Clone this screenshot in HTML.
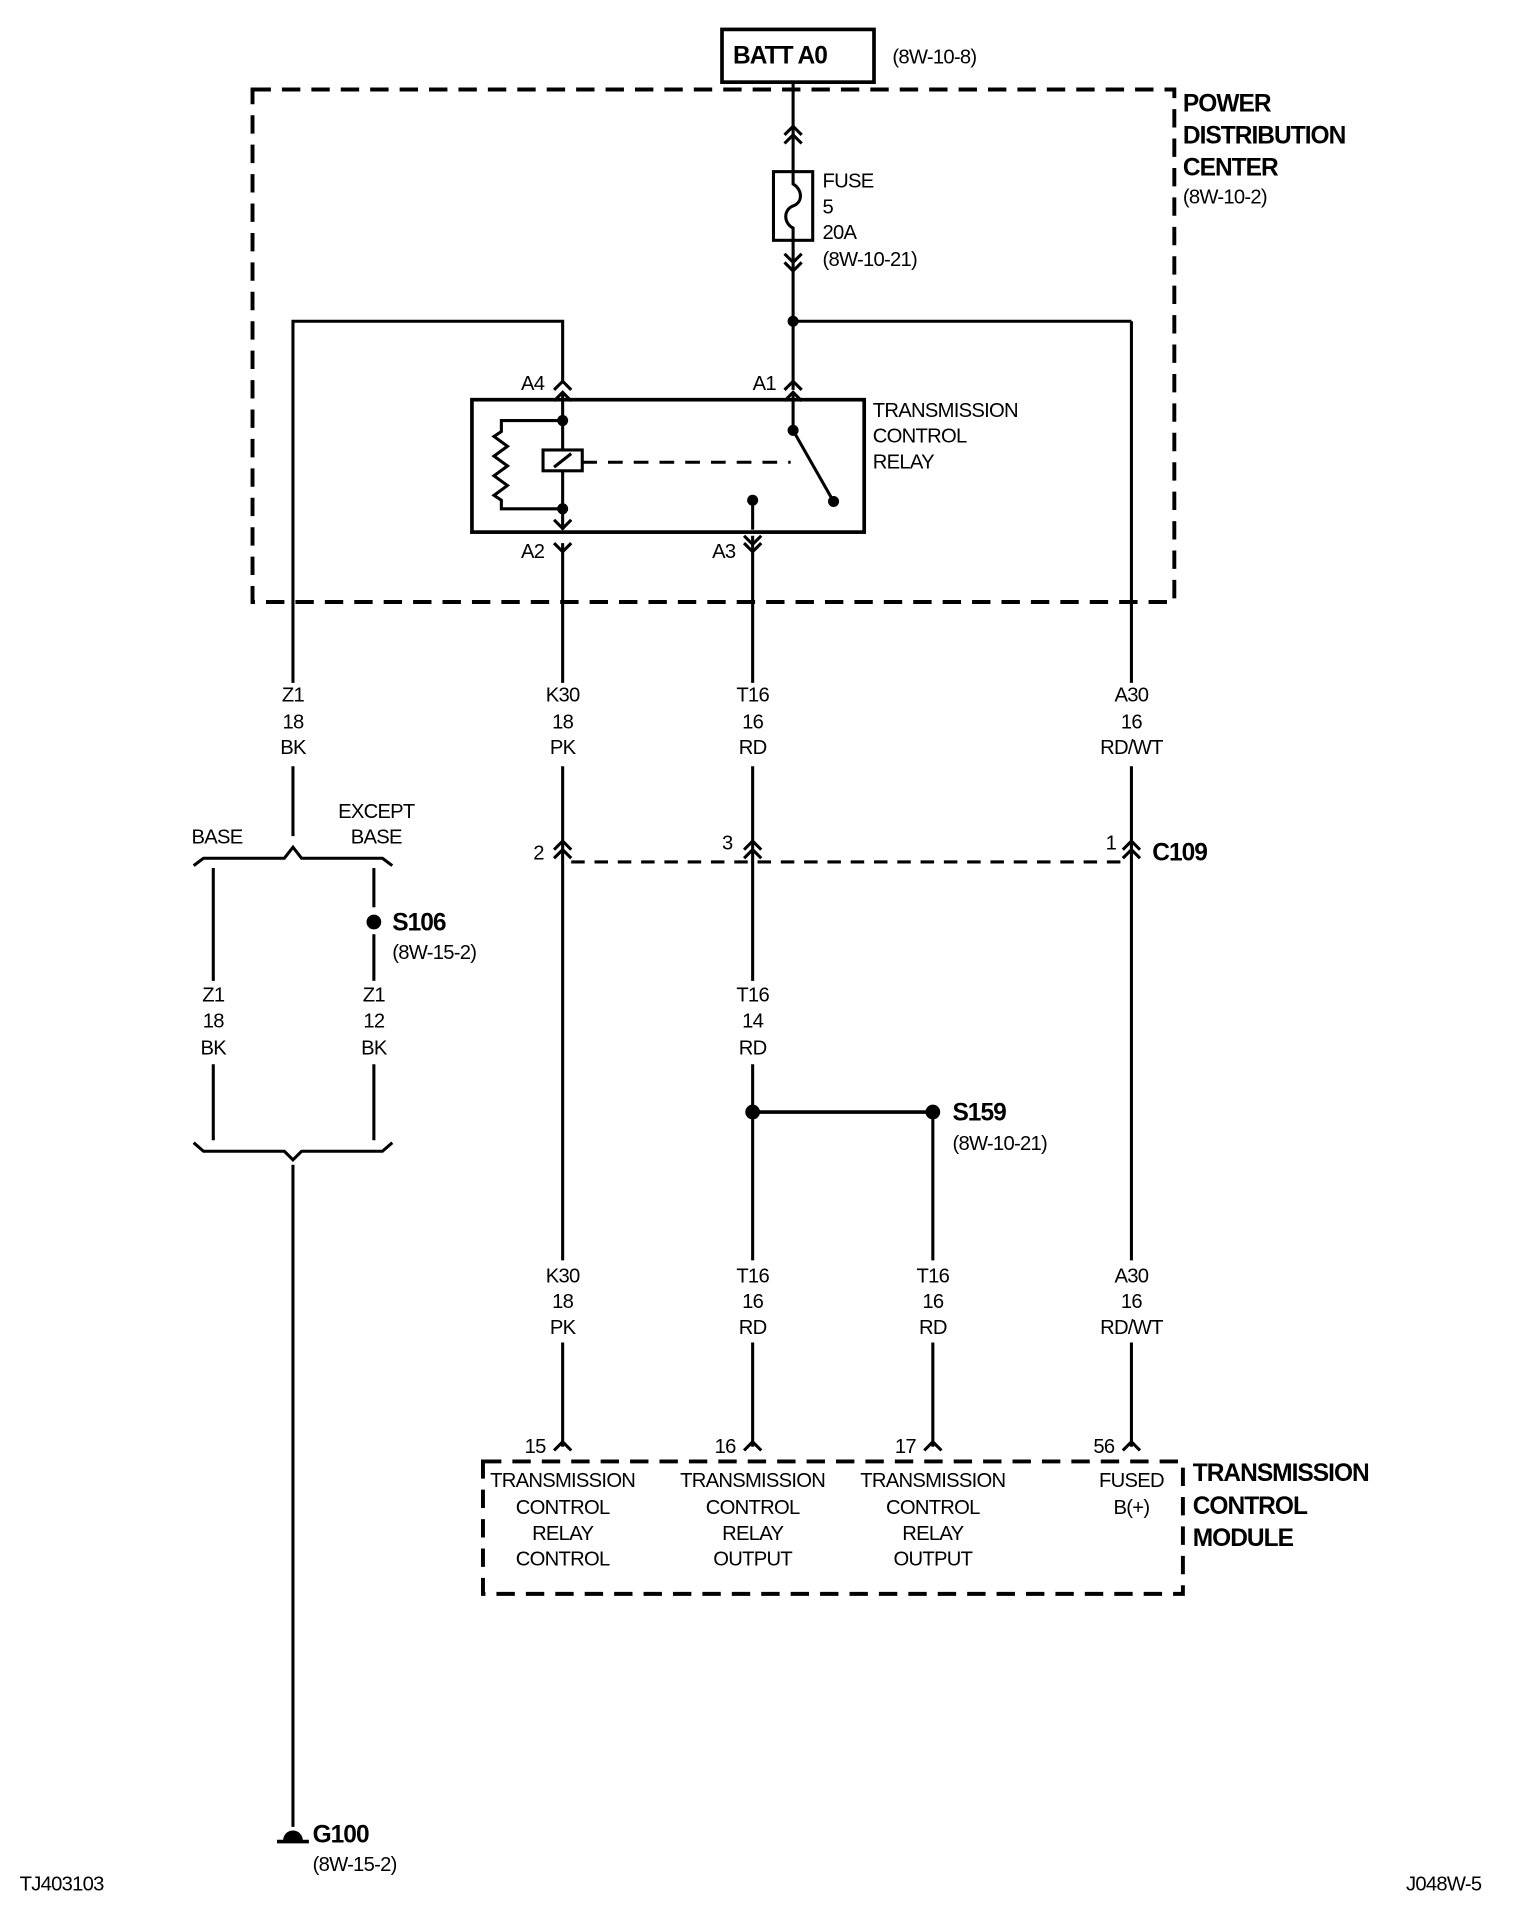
<!DOCTYPE html>
<html><head><meta charset="utf-8"><style>
html,body{margin:0;padding:0;background:#fff;}
svg{display:block}
text{font-family:"Liberation Sans Narrow","Liberation Sans",sans-serif;font-size:16.5px;fill:#000;letter-spacing:-0.6px}
.b{font-weight:bold;font-size:20px;letter-spacing:-0.8px}
.m{text-anchor:middle}
</style></head><body>
<svg width="1520" height="1920" viewBox="0 0 1240 1566" preserveAspectRatio="none" xmlns="http://www.w3.org/2000/svg">
<g fill="none" stroke="#000" stroke-width="2.5">
<rect x="589" y="24" width="124" height="43" stroke-width="3"/>
<rect x="206" y="73" width="752" height="418" stroke-width="3.2" stroke-dasharray="15 9"/>
<line x1="647" y1="67" x2="647" y2="140"/>
<path d="M640 110 L647 103 L654 110 M640 117 L647 110 L654 117"/>
<rect x="631" y="140" width="32" height="56"/>
<path d="M647 140 L647 150 C655 155 655 165 647 168 C639 171 639 182 647 186 L647 196"/>
<line x1="647" y1="196" x2="647" y2="318"/>
<path d="M640 207 L647 214 L654 207 M640 214 L647 221 L654 214"/>
<line x1="647" y1="262" x2="923" y2="262"/>
<line x1="923" y1="262" x2="923" y2="557"/>
<path d="M640 318 L647 311 L654 318"/>
<path d="M640 327 L647 320 L654 327"/>
<line x1="647" y1="320" x2="647" y2="351"/>
<line x1="647" y1="351" x2="680" y2="409"/>
<path d="M459 311 L459 262 L239 262 L239 557"/>
<path d="M452 318 L459 311 L466 318"/>
<path d="M452 327 L459 320 L466 327"/>
<rect x="385" y="326" width="320" height="108" stroke-width="3"/>
<line x1="459" y1="320" x2="459" y2="367"/>
<rect x="443" y="367" width="32" height="17"/>
<line x1="452" y1="381" x2="466" y2="370"/>
<line x1="459" y1="384" x2="459" y2="432"/>
<path d="M459 343 L409 343 L409 352 L403 356 L414 364 L403 372 L414 380 L403 388 L414 396 L403 404 L409 408 L409 415 L459 415"/>
<line x1="475" y1="377" x2="645" y2="377" stroke-dasharray="12 9"/>
<line x1="614" y1="408" x2="614" y2="432"/>
<path d="M452 424 L459 431 L466 424"/>
<path d="M452 443 L459 450 L466 443"/>
<path d="M607 437 L614 444 L621 437"/>
<path d="M607 443 L614 450 L621 443"/>
<line x1="459" y1="443" x2="459" y2="557"/>
<line x1="614" y1="437" x2="614" y2="557"/>
<!-- lower wires with label gaps -->
<line x1="459" y1="625" x2="459" y2="1028"/>
<line x1="459" y1="1095" x2="459" y2="1180"/>
<line x1="614" y1="625" x2="614" y2="800"/>
<line x1="614" y1="868" x2="614" y2="1028"/>
<line x1="614" y1="1095" x2="614" y2="1180"/>
<line x1="923" y1="625" x2="923" y2="1028"/>
<line x1="923" y1="1095" x2="923" y2="1180"/>
<path d="M452 693 L459 686 L466 693 M452 700 L459 693 L466 700"/>
<path d="M607 693 L614 686 L621 693 M607 700 L614 693 L621 700"/>
<path d="M916 693 L923 686 L930 693 M916 700 L923 693 L930 700"/>
<line x1="466" y1="703" x2="916" y2="703" stroke-dasharray="11 8"/>
<line x1="614" y1="907" x2="761" y2="907" stroke-width="3"/>
<line x1="761" y1="907" x2="761" y2="1028"/>
<line x1="761" y1="1095" x2="761" y2="1180"/>
<path d="M452 1183 L459 1176 L466 1183"/>
<path d="M607 1183 L614 1176 L621 1183"/>
<path d="M754 1183 L761 1176 L768 1183"/>
<path d="M916 1183 L923 1176 L930 1183"/>
<rect x="394" y="1192" width="571" height="108" stroke-width="3.2" stroke-dasharray="15 9"/>
<line x1="239" y1="625" x2="239" y2="682"/>
<path d="M158 706 L166 700 L232 700 L239 691 L246 700 L312 700 L320 706"/>
<line x1="174" y1="708" x2="174" y2="800"/>
<line x1="305" y1="708" x2="305" y2="740"/>
<line x1="305" y1="762" x2="305" y2="800"/>
<line x1="305" y1="868" x2="305" y2="930"/>
<line x1="174" y1="868" x2="174" y2="930"/>
<path d="M158 932 L166 939 L232 939 L239 946 L246 939 L312 939 L320 932"/>
<line x1="239" y1="950" x2="239" y2="1490"/>
<line x1="226" y1="1502" x2="252" y2="1502" stroke-width="3"/>
</g>
<g fill="#000">
<circle cx="647" cy="262" r="4.5"/>
<circle cx="459" cy="343" r="4.5"/>
<circle cx="459" cy="415" r="4.5"/>
<circle cx="647" cy="351" r="4.5"/>
<circle cx="680" cy="409" r="4.5"/>
<circle cx="614" cy="408" r="4.5"/>
<circle cx="305" cy="752" r="6"/>
<circle cx="614" cy="907" r="6"/>
<circle cx="761" cy="907" r="6"/>
<path d="M231 1501 A8 8 0 0 1 247 1501 Z"/>
</g>
<text class="b" x="598" y="52">BATT A0</text>
<text x="728" y="52">(8W-10-8)</text>
<text class="b" x="965" y="91">POWER</text>
<text class="b" x="965" y="117">DISTRIBUTION</text>
<text class="b" x="965" y="143">CENTER</text>
<text x="965" y="166">(8W-10-2)</text>
<text x="671" y="153">FUSE</text>
<text x="671" y="174">5</text>
<text x="671" y="195">20A</text>
<text x="671" y="217">(8W-10-21)</text>
<text x="425" y="318">A4</text>
<text x="614" y="318">A1</text>
<text x="425" y="455">A2</text>
<text x="581" y="455">A3</text>
<text x="712" y="340">TRANSMISSION</text>
<text x="712" y="361">CONTROL</text>
<text x="712" y="382">RELAY</text>
<text class="m" x="239" y="572">Z1</text><text class="m" x="239" y="594">18</text><text class="m" x="239" y="615">BK</text>
<text class="m" x="459" y="572">K30</text><text class="m" x="459" y="594">18</text><text class="m" x="459" y="615">PK</text>
<text class="m" x="614" y="572">T16</text><text class="m" x="614" y="594">16</text><text class="m" x="614" y="615">RD</text>
<text class="m" x="923" y="572">A30</text><text class="m" x="923" y="594">16</text><text class="m" x="923" y="615">RD/WT</text>
<text class="m" x="177" y="688">BASE</text>
<text class="m" x="307" y="667">EXCEPT</text><text class="m" x="307" y="688">BASE</text>
<text class="m" x="174" y="817">Z1</text><text class="m" x="174" y="838">18</text><text class="m" x="174" y="860">BK</text>
<text class="m" x="305" y="817">Z1</text><text class="m" x="305" y="838">12</text><text class="m" x="305" y="860">BK</text>
<text class="m" x="614" y="817">T16</text><text class="m" x="614" y="838">14</text><text class="m" x="614" y="860">RD</text>
<text class="m" x="459" y="1046">K30</text><text class="m" x="459" y="1067">18</text><text class="m" x="459" y="1088">PK</text>
<text class="m" x="614" y="1046">T16</text><text class="m" x="614" y="1067">16</text><text class="m" x="614" y="1088">RD</text>
<text class="m" x="761" y="1046">T16</text><text class="m" x="761" y="1067">16</text><text class="m" x="761" y="1088">RD</text>
<text class="m" x="923" y="1046">A30</text><text class="m" x="923" y="1067">16</text><text class="m" x="923" y="1088">RD/WT</text>
<text class="m" x="459" y="1213">TRANSMISSION</text><text class="m" x="459" y="1235">CONTROL</text><text class="m" x="459" y="1256">RELAY</text><text class="m" x="459" y="1277">CONTROL</text>
<text class="m" x="614" y="1213">TRANSMISSION</text><text class="m" x="614" y="1235">CONTROL</text><text class="m" x="614" y="1256">RELAY</text><text class="m" x="614" y="1277">OUTPUT</text>
<text class="m" x="761" y="1213">TRANSMISSION</text><text class="m" x="761" y="1235">CONTROL</text><text class="m" x="761" y="1256">RELAY</text><text class="m" x="761" y="1277">OUTPUT</text>
<text class="m" x="923" y="1213">FUSED</text><text class="m" x="923" y="1235">B(+)</text>
<text x="435" y="701">2</text>
<text x="589" y="693">3</text>
<text x="902" y="693">1</text>
<text class="b" x="940" y="702">C109</text>
<text class="b" x="320" y="759">S106</text>
<text x="320" y="782">(8W-15-2)</text>
<text class="b" x="777" y="914">S159</text>
<text x="777" y="938">(8W-10-21)</text>
<text x="428" y="1185">15</text>
<text x="583" y="1185">16</text>
<text x="730" y="1185">17</text>
<text x="892" y="1185">56</text>
<text class="b" x="973" y="1208">TRANSMISSION</text>
<text class="b" x="973" y="1235">CONTROL</text>
<text class="b" x="973" y="1261">MODULE</text>
<text class="b" x="255" y="1503">G100</text>
<text x="255" y="1526">(8W-15-2)</text>
<text x="16" y="1542">TJ403103</text>
<text x="1147" y="1542">J048W-5</text>
</svg>
</body></html>
